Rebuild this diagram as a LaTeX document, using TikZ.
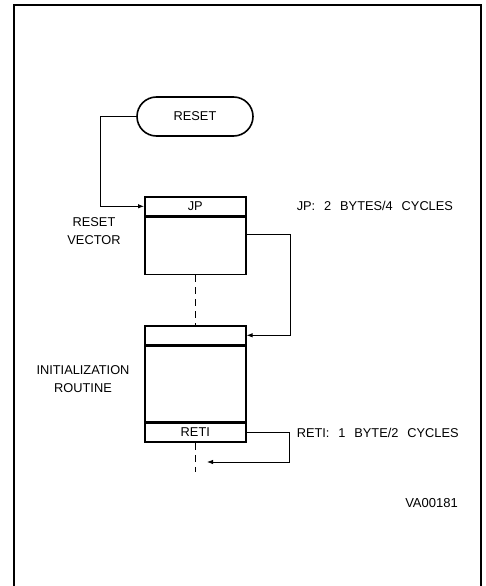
\documentclass[tikz,border=0pt]{standalone}
\usepackage{fontspec}
\setmainfont{Liberation Sans}[WordSpace=2.5]
\usepackage{tikz}
\usetikzlibrary{positioning,arrows.meta,shapes.misc}
\tikzset{
  term/.style   = {rounded rectangle, draw, line width=1.6pt, minimum width=116pt,
                   minimum height=39pt, inner sep=0pt, font=\fontsize{12.8}{15}\selectfont},
  strip/.style  = {rectangle, draw, line width=1.6pt, minimum width=101pt,
                   minimum height=19pt, inner sep=0pt, font=\fontsize{12.8}{15}\selectfont},
  cell/.style   = {rectangle, draw, line width=1.6pt, minimum width=101pt, inner sep=0pt},
  flow/.style   = {-{Latex[length=6pt,width=4.5pt]}, line width=0.8pt},
  link/.style   = {line width=0.9pt, dash pattern=on 7pt off 5pt},
  frame/.style  = {line width=1.2pt},
  lbl/.style    = {font=\fontsize{12.8}{18}\selectfont, align=center, inner sep=0pt},
}

\begin{document}
\begin{tikzpicture}[x=1pt,y=-1pt]
  \useasboundingbox (0,0) rectangle (485,586);
  \draw[frame] (14,600) -- (14,5) -- (481,5) -- (481,600);

  \node[term] (reset) at (195,116.5) {RESET};
  \node[strip, anchor=north west] (jp) at (144,196) {JP};
  \node[cell, below=0pt of jp, minimum height=57pt] (vec) {};
  \node[strip, anchor=north west] (top) at (144,325) {};
  \node[cell, below=0pt of top, minimum height=75pt] (init) {};
  \node[strip, below=0pt of init] (reti) {RETI};

  \node[lbl] (vlabel) at (94,231) {RESET\\VECTOR};
  \node[lbl] (ilabel) at (83,379) {INITIALIZATION\\ROUTINE};
  \node[lbl, right=50pt of jp] (jpnote) {JP: 2 BYTES/4 CYCLES};
  \node[lbl, right=50pt of reti] (retinote) {RETI: 1 BYTE/2 CYCLES};
  \node[lbl, anchor=east, font=\fontsize{13}{15}\selectfont] (code) at (458,503) {VA00181};
  \coordinate (back) at (207,462);

  \draw[flow] (reset.west) -- ++(-36,0) |- (jp.west);
  \draw[flow] ([yshift=-18pt]vec.north east) -- ++(44,0) |- (top.east);
  \draw[flow] (reti.east) -- ++(43,0) |- (back);
  \draw[link] (vec.south) -- (top.north);
  \draw[link] (reti.south) -- ++(0,29);
\end{tikzpicture}
\end{document}
